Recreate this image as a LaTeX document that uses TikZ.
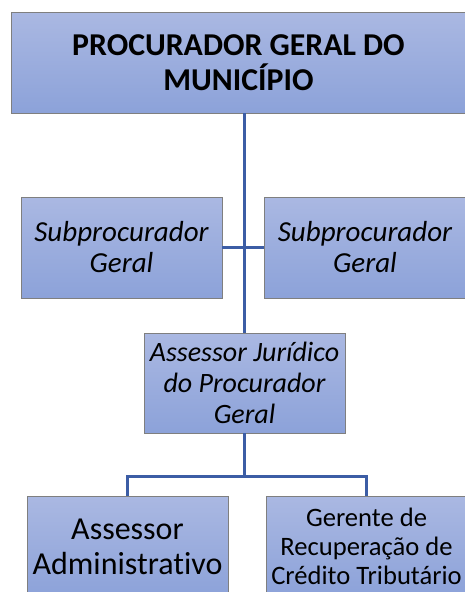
\documentclass[tikz,border=0pt]{standalone}
\usepackage{fontspec}
\setmainfont{Carlito}[Ligatures={NoCommon}]
\definecolor{boxtop}{HTML}{AAB8E2}
\definecolor{boxbot}{HTML}{8CA2D9}
\definecolor{boxline}{HTML}{7F7F7F}
\definecolor{connc}{HTML}{3C5DA5}
\tikzset{
  orgbox/.style={rectangle, draw=boxline, line width=0.9pt, top color=boxtop, bottom color=boxbot, minimum height=101pt, inner sep=0pt, align=center, text=black},
  conn/.style={draw=connc, line width=2.6pt}
}
\begin{document}
\begin{tikzpicture}[x=1pt,y=-1pt]
\useasboundingbox (0,0) rectangle (464,592);
\fill[white] (0,0) rectangle (464,592);
\node[orgbox, minimum width=455pt, font=\fontsize{31.8}{35}\selectfont\bfseries] (top) at (238.5,62.5)
  {PROCURADOR GERAL DO\\ MUNICÍPIO};
\node[orgbox, minimum width=201pt, font=\fontsize{29}{31}\selectfont\itshape] (subl) at (121.5,247.5)
  {Subprocurador\\ Geral};
\node[orgbox, minimum width=202pt, font=\fontsize{29}{31}\selectfont\itshape] (subr) at (365,247.5)
  {Subprocurador\\ Geral};
\node[orgbox, minimum width=201pt, minimum height=100pt, font=\fontsize{28}{31}\selectfont\itshape] (aj) at (244.5,383)
  {Assessor Jurídico\\ do Procurador\\ Geral};
\node[orgbox, minimum width=201pt, font=\fontsize{32}{35}\selectfont] (bl) at (127.5,546.5)
  {Assessor\\ Administrativo};
\node[orgbox, minimum width=201pt, font=\fontsize{26.6}{29}\selectfont] (br) at (366.5,546.5)
  {Gerente de\\ Recuperação de\\ Crédito Tributário};
\draw[conn] (aj.north) -- (aj.north |- top.south);
\draw[conn] (subl.east) -- (subr.west);
\draw[conn] (aj.south) -- ++(0,43) -| (bl.north);
\draw[conn] (aj.south) -- ++(0,43) -| (br.north);
\end{tikzpicture}
\end{document}
